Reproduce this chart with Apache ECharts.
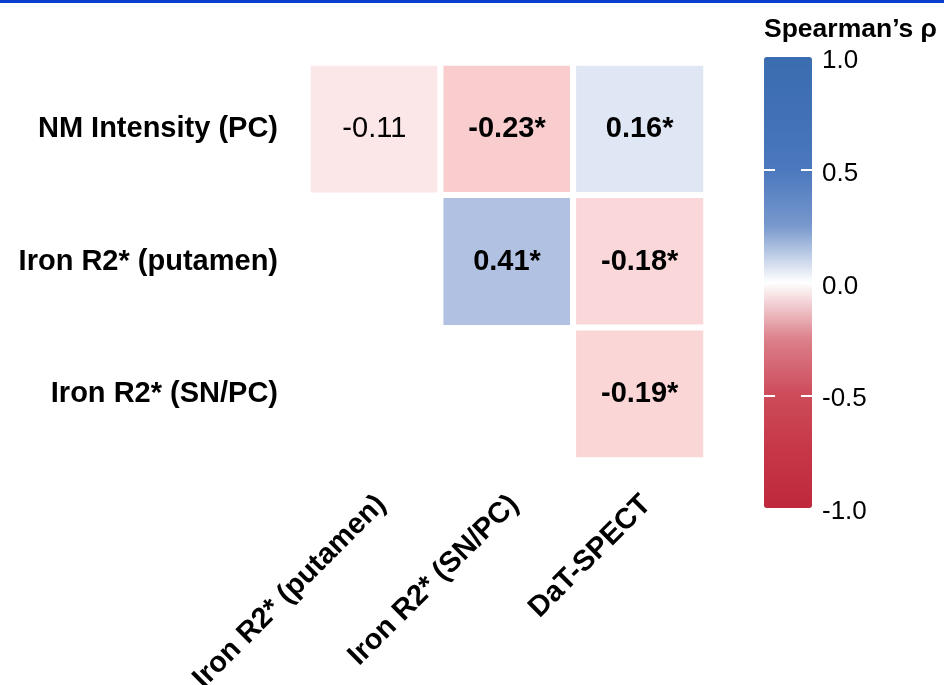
<!DOCTYPE html>
<html>
<head>
<meta charset="utf-8">
<script src="https://cdn.jsdelivr.net/npm/echarts@6/dist/echarts.min.js"></script>
<style>html,body{margin:0;padding:0;background:#fff}#c{width:944px;height:685px}</style>
</head>
<body>
<div id="c"></div>
<script>
const xCategories = ['Iron R2* (putamen)', 'Iron R2* (SN/PC)', 'DaT-SPECT'];
const yCategories = ['NM Intensity (PC)', 'Iron R2* (putamen)', 'Iron R2* (SN/PC)'];
const rhoRows = [
  [-0.11, -0.23, 0.16],
  [null, 0.41, -0.18],
  [null, null, -0.19]
];
const sigRows = [
  [false, true, true],
  [null, true, true],
  [null, null, true]
];
const colorbarTicks = [-0.5, 0, 0.5];
const colorbarMin = -1, colorbarMax = 1, colorbarStep = 0.5;
// colours used for the cells (-1 .. 1, evenly spaced)
const cellColors = ['#BE283A', '#D4646E', '#E89A9E', '#F8C9CA', '#FFFFFF', '#CED9EE', '#A0B4DA', '#6E90C6', '#3A6DB0'];
// colours shown in the colour bar (-1 .. 1, evenly spaced)
const barColors = ['#BE283A', '#C63746', '#CD4B5A', '#DC808A', '#FFFFFF', '#7898CD', '#4B78BE', '#4170B6', '#3A6DB0'];

const FONT = 'Arial, "Liberation Sans", Helvetica, sans-serif';

const heatData = [];
rhoRows.forEach((row, yi) => {
  row.forEach((v, xi) => {
    if (v === null) return;
    const sig = sigRows[yi][xi];
    heatData.push({
      value: [xi, yi, v],
      label: { fontWeight: sig ? 'bold' : 'normal', formatter: v.toFixed(2) + (sig ? '*' : '') }
    });
  });
});

const tickAxis = (offset) => ({
  type: 'value', gridIndex: 1, position: 'left', offset: offset,
  min: colorbarMin, max: colorbarMax, interval: colorbarStep, z: 50,
  axisLine: { show: false }, splitLine: { show: false }, axisLabel: { show: false },
  axisTick: { show: true, inside: true, length: 11, customValues: colorbarTicks, lineStyle: { color: '#fff', width: 2 } }
});

const chart = echarts.init(document.getElementById('c'), null, { renderer: 'canvas' });
chart.setOption({
  animation: false,
  backgroundColor: '#fff',
  textStyle: { fontFamily: FONT },
  title: {
    text: 'Spearman\u2019s \u03c1',
    left: 764, top: 16, padding: 0,
    textStyle: { fontSize: 26.5, fontWeight: 'bold', color: '#000', fontFamily: FONT }
  },
  graphic: [{
    type: 'rect', left: 0, top: 0, shape: { x: 0, y: 0, width: 944, height: 3 },
    style: { fill: '#0B40CF' }, z: 100
  }],
  grid: [
    { left: 308, top: 63, width: 398, height: 397, outerBoundsMode: 'none', containLabel: false },
    { left: 764, top: 57, width: 48, height: 451, outerBoundsMode: 'none', containLabel: false }
  ],
  xAxis: [{
    type: 'category', data: xCategories, gridIndex: 0, position: 'bottom',
    axisLine: { show: false }, axisTick: { show: false }, splitLine: { show: false },
    axisLabel: {
      interval: 0, rotate: 45, margin: 33, fontSize: 29, fontWeight: 'bold', color: '#000',
      fontFamily: FONT, verticalAlign: 'top', lineHeight: 20
    }
  }, {
    type: 'value', gridIndex: 1, show: false
  }],
  yAxis: [{
    type: 'category', data: yCategories, gridIndex: 0, inverse: true,
    axisLine: { show: false }, axisTick: { show: false }, splitLine: { show: false },
    axisLabel: { interval: 0, margin: 30, fontSize: 29, fontWeight: 'bold', color: '#000', fontFamily: FONT }
  }, {
    type: 'value', gridIndex: 1, position: 'right', min: colorbarMin, max: colorbarMax, interval: colorbarStep,
    z: 50,
    axisLine: { show: false }, splitLine: { show: false }, axisTick: { show: false },
    axisLabel: { margin: 10, fontSize: 26, color: '#000', fontFamily: FONT, verticalAlign: 'top', lineHeight: 8, formatter: v => v.toFixed(1) }
  }, tickAxis(0), tickAxis(-37)],
  visualMap: [{
    type: 'continuous', min: colorbarMin, max: colorbarMax, dimension: 2, seriesIndex: 0,
    show: false, inRange: { color: cellColors }
  }, {
    type: 'continuous', min: colorbarMin, max: colorbarMax, dimension: 2, seriesIndex: 1,
    calculable: false, hoverLink: false, orient: 'vertical', z: 2,
    left: 764, top: 57, padding: 0, itemWidth: 48, itemHeight: 451,
    text: null, showLabel: false,
    inRange: { color: barColors }
  }],
  series: [{
    type: 'heatmap', xAxisIndex: 0, yAxisIndex: 0, data: heatData,
    itemStyle: { borderColor: '#fff', borderWidth: 6 },
    label: { show: true, fontSize: 29, color: '#000', fontFamily: FONT },
    emphasis: { disabled: true }
  }, {
    type: 'scatter', xAxisIndex: 1, yAxisIndex: 1, data: [], silent: true
  }]
});
</script>
</body>
</html>
